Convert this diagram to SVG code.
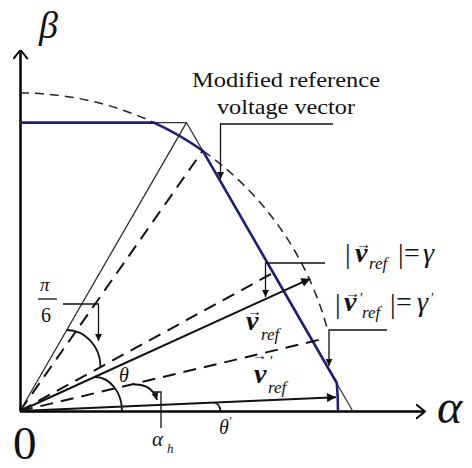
<svg xmlns="http://www.w3.org/2000/svg" width="472" height="468" viewBox="0 0 472 468">
<style>
text{font-family:"Liberation Serif","DejaVu Serif",serif;fill:#111}
.it{font-style:italic}
.v{font-style:italic;font-weight:bold;font-size:28px}
.sub{font-style:italic;font-weight:normal;font-size:17px}
.big{font-size:28px}
.acc{font-size:15px;font-style:normal;font-weight:normal}
.pr{font-size:14px;font-style:normal;font-weight:normal}
.axis{stroke:#000;stroke-width:2.5;fill:none}
.hex{stroke:#333;stroke-width:1.2;fill:none}
.blue{stroke:#1f1f7a;stroke-width:2.6;fill:none;stroke-linejoin:round}
.circ{stroke:#222;stroke-width:1.5;fill:none;stroke-dasharray:9 6}
.dash{stroke:#111;stroke-width:2;fill:none;stroke-dasharray:13 8}
.vec{stroke:#111;stroke-width:2;fill:none}
.thin{stroke:#222;stroke-width:1.2;fill:none}
.ptr{stroke:#111;stroke-width:1.3;fill:none}
.ang{stroke:#111;stroke-width:1.8;fill:none}
</style>
<defs>
<marker id="open" viewBox="0 0 10 16" refX="9.5" refY="8" markerWidth="10" markerHeight="16" markerUnits="userSpaceOnUse" orient="auto"><path d="M0.5,0.8 L9.5,8 L0.5,15.2" fill="none" stroke="#000" stroke-width="2"/></marker>
<marker id="tri" viewBox="0 0 10 10" refX="10" refY="5" markerWidth="13" markerHeight="9" markerUnits="userSpaceOnUse" orient="auto"><path d="M0,0 L10,5 L0,10 z" fill="#111"/></marker>
<marker id="tris" viewBox="0 0 10 10" refX="10" refY="5" markerWidth="9" markerHeight="7" markerUnits="userSpaceOnUse" orient="auto"><path d="M0,0 L10,5 L0,10 z" fill="#111"/></marker>
</defs>

<g id="axes">
<path class="axis" d="M20.5,411.5 V50" marker-end="url(#open)"/>
<path class="axis" d="M20,411.5 H425" marker-end="url(#open)"/>
<text class="it" x="39" y="38" font-size="38">β</text>
<text class="it" x="437" y="423" font-size="48">α</text>
<text x="13" y="459" font-size="47">0</text>
</g>

<g id="hexagon">
<path class="hex" d="M20,122.6 H186.5 L353,411.5"/>
</g>

<g id="circle">
<path class="circ" d="M20,93 A318,318 0 0 1 327.2,328.7"/>
</g>

<g id="modified-locus">
<path class="blue" d="M20,122.6 H154 A318,318 0 0 1 202.7,150.7 L336.8,383 A318,318 0 0 1 338,411.5"/>
</g>

<g id="connectors">
<path class="thin" d="M20,411 L186.5,122.6"/>
<path class="dash" d="M20,411 L202.7,150.7"/>
<path class="dash" d="M20,411 L271,274"/>
<path class="vec" d="M20,411 L310.3,278.7" marker-end="url(#tri)"/>
<path class="dash" d="M20,411 L321.6,339.2"/>
<path class="vec" d="M20,411 L336,397.2" marker-end="url(#tri)"/>
<path class="ang" d="M66.8,330 A34,37 0 0 1 100.5,367"/>
<path class="ang" d="M95,377 A27,34 0 0 1 122,411"/>
<path class="ang" d="M134,384.5 Q152,384 157,400" marker-end="url(#tris)"/>
<path class="ang" d="M214,402.5 Q220,404 220.5,411"/>
<path class="ptr" d="M63,304 H98.5 V341" marker-end="url(#tris)"/>
<path class="ptr" d="M333,124 H220.5 V179" marker-end="url(#tris)"/>
<path class="ptr" d="M325,263 H265.5 V297" marker-end="url(#tris)"/>
<path class="ptr" d="M387,330 H329 V366" marker-end="url(#tris)"/>
<path class="ptr" d="M154,392 H161 V428"/>
</g>

<g id="label-modified">
<text x="192" y="87" font-size="21" textLength="188" lengthAdjust="spacingAndGlyphs">Modified reference</text>
<text x="217" y="114" font-size="21" textLength="138" lengthAdjust="spacingAndGlyphs">voltage vector</text>
</g>

<g id="label-pi6">
<text class="it" x="40" y="291" font-size="19">π</text>
<path class="ptr" d="M38,299 H57"/>
<text x="41" y="322" font-size="20">6</text>
</g>

<g id="label-theta">
<text class="it" x="119" y="382" font-size="20">θ</text>
</g>

<g id="label-theta-prime">
<text class="it" x="219" y="434" font-size="20">θ<tspan font-size="12" dy="-9">′</tspan></text>
</g>

<g id="label-alpha-h">
<text class="it" x="152" y="446" font-size="21">α<tspan font-size="13" x="167" y="453">h</tspan></text>
</g>

<g id="label-gamma">
<text class="big"><tspan x="345" y="263">|</tspan><tspan class="acc" x="356" y="249">→</tspan><tspan class="v" x="355" y="262">v</tspan><tspan class="sub" x="369" y="269">ref</tspan><tspan x="398" y="263">|</tspan><tspan x="404" y="262">=</tspan><tspan class="it" x="423" y="262">γ</tspan></text>
</g>

<g id="label-gamma-prime">
<text class="big"><tspan x="335" y="313">|</tspan><tspan class="acc" x="345" y="298">→</tspan><tspan class="v" x="344" y="311">v</tspan><tspan class="pr" x="360" y="303">′</tspan><tspan class="sub" x="362" y="318">ref</tspan><tspan x="390" y="313">|</tspan><tspan x="396" y="311">=</tspan><tspan class="it" x="417" y="311">γ</tspan><tspan class="pr" x="431" y="303">′</tspan></text>
</g>

<g id="label-vref">
<text class="v"><tspan class="acc" x="247" y="316">→</tspan><tspan x="246" y="330">v</tspan><tspan class="sub" x="261" y="340">ref</tspan></text>
</g>

<g id="label-vref-prime">
<text class="v"><tspan class="acc" x="252" y="360">→</tspan><tspan class="pr" x="270" y="366">′</tspan><tspan x="254" y="383">v</tspan><tspan class="sub" x="268" y="393">ref</tspan></text>
</g>
</svg>
